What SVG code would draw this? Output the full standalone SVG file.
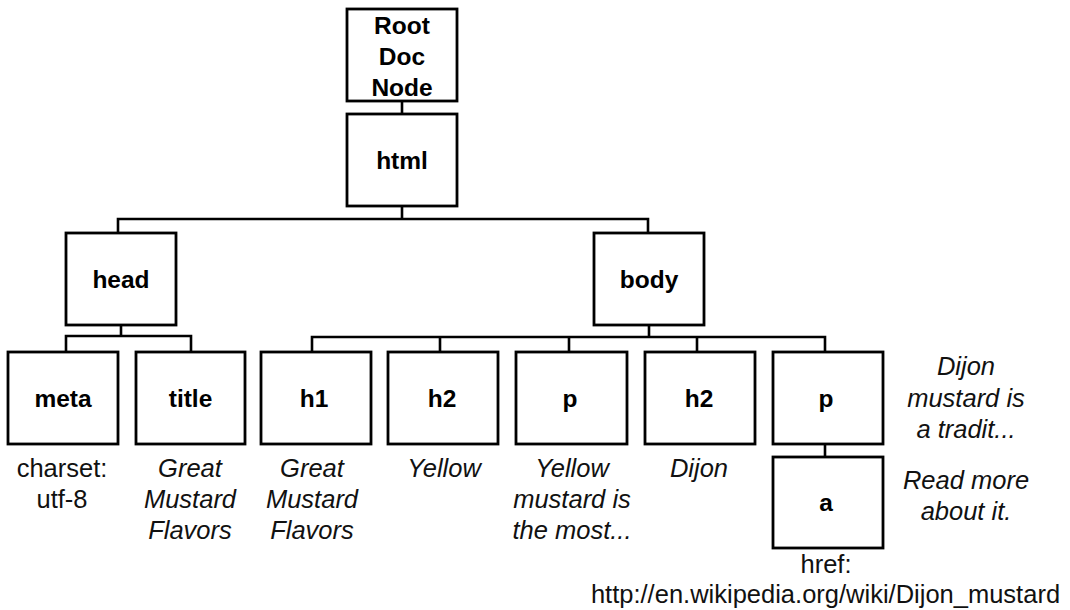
<svg xmlns="http://www.w3.org/2000/svg" width="1070" height="610" viewBox="0 0 1070 610">
<style>
.box{fill:#fff;stroke:#000;stroke-width:2.8}
.lbl{font-family:"Liberation Sans",Arial,sans-serif;font-weight:bold;font-size:24.5px;text-anchor:middle;fill:#000}
.cap{font-family:"Liberation Sans",Arial,sans-serif;font-size:25.5px;text-anchor:middle;fill:#111}
.it{font-style:italic}
.conn{fill:none;stroke:#000;stroke-width:2.6}
</style>
<rect width="1070" height="610" fill="#fff"/>
<g id="connectors">
<path class="conn" d="M402 101V114"/>
<path class="conn" d="M402 206V219M118 233V219H648V233"/>
<path class="conn" d="M121 325V336M66 352V336H191V352"/>
<path class="conn" d="M649 325V337M312 352V337H825V352M440 337V352M569 337V352M697 337V352"/>
<path class="conn" d="M825 444V457"/>
</g>
<g id="root">
<rect class="box" x="347" y="9" width="110" height="92"/>
<text class="lbl" x="402" y="34">Root</text>
<text class="lbl" x="402" y="65">Doc</text>
<text class="lbl" x="402" y="96">Node</text>
</g>
<g id="html">
<rect class="box" x="347" y="114" width="110" height="92"/>
<text class="lbl" x="402" y="169">html</text>
</g>
<g id="head">
<rect class="box" x="66" y="233" width="110" height="92"/>
<text class="lbl" x="121" y="288">head</text>
</g>
<g id="body">
<rect class="box" x="594" y="233" width="110" height="92"/>
<text class="lbl" x="649" y="288">body</text>
</g>
<g id="meta">
<rect class="box" x="8" y="352" width="110" height="92"/>
<text class="lbl" x="63" y="407">meta</text>
<text class="cap" x="62" y="477">charset:</text>
<text class="cap" x="62" y="508">utf-8</text>
</g>
<g id="title">
<rect class="box" x="136" y="352" width="109" height="92"/>
<text class="lbl" x="190.5" y="407">title</text>
<text class="cap it" x="190" y="477">Great</text>
<text class="cap it" x="190" y="508">Mustard</text>
<text class="cap it" x="190" y="539">Flavors</text>
</g>
<g id="h1">
<rect class="box" x="261" y="352" width="110" height="92"/>
<text class="lbl" x="314" y="407">h1</text>
<text class="cap it" x="312" y="477">Great</text>
<text class="cap it" x="312" y="508">Mustard</text>
<text class="cap it" x="312" y="539">Flavors</text>
</g>
<g id="h2a">
<rect class="box" x="388" y="352" width="110" height="92"/>
<text class="lbl" x="442" y="407">h2</text>
<text class="cap it" x="444" y="477">Yellow</text>
</g>
<g id="p1">
<rect class="box" x="516" y="352" width="111" height="92"/>
<text class="lbl" x="570" y="407">p</text>
<text class="cap it" x="572" y="477">Yellow</text>
<text class="cap it" x="572" y="508">mustard is</text>
<text class="cap it" x="572" y="539">the most...</text>
</g>
<g id="h2b">
<rect class="box" x="645" y="352" width="110" height="92"/>
<text class="lbl" x="699" y="407">h2</text>
<text class="cap it" x="699" y="477">Dijon</text>
</g>
<g id="p2">
<rect class="box" x="773" y="352" width="110" height="92"/>
<text class="lbl" x="826" y="407">p</text>
<text class="cap it" x="966" y="375">Dijon</text>
<text class="cap it" x="966" y="407">mustard is</text>
<text class="cap it" x="966" y="438">a tradit...</text>
</g>
<g id="a">
<rect class="box" x="773" y="457" width="110" height="91"/>
<text class="lbl" x="826" y="511">a</text>
<text class="cap it" x="966" y="489">Read more</text>
<text class="cap it" x="966" y="520">about it.</text>
<text class="cap" x="826" y="573">href:</text>
<text class="cap" x="825.5" y="603">http://en.wikipedia.org/wiki/Dijon_mustard</text>
</g>
</svg>
